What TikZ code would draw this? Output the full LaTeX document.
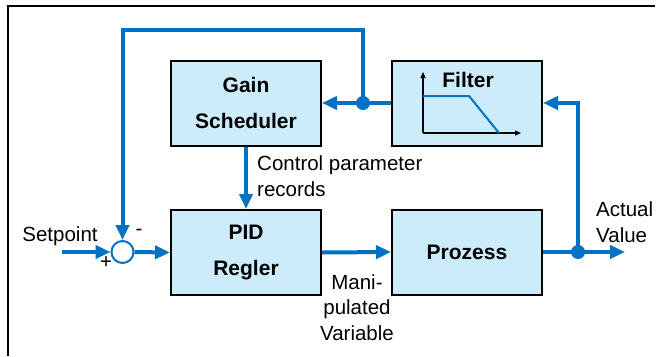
\documentclass[tikz,border=0pt]{standalone}
\usepackage{fontspec}
\setmainfont{Liberation Sans}
\usetikzlibrary{arrows.meta}

\definecolor{flowblue}{RGB}{0,114,198}
\definecolor{boxblue}{RGB}{204,235,251}

\tikzset{
    blockbox/.style={draw=black, line width=2pt, fill=boxblue, minimum width=150pt,
        minimum height=85pt, inner sep=0pt, align=center, font=\fontsize{21}{36}\selectfont\bfseries},
    flow/.style={draw=flowblue, line width=4pt, -{Triangle[length=15pt,width=13pt]}},
    lbl/.style={font=\fontsize{20.5}{26}\selectfont, inner sep=0pt}
}

\begin{document}
\begin{tikzpicture}[x=1pt, y=-1pt]
    \useasboundingbox (0,0) rectangle (663,356);

    % Draw the frame
    \draw[line width=2pt] (8,356) -- (8,6) -- (655,6);

    % Place the blocks
    \node[blockbox] (gain) at (246,103) {Gain\\Scheduler};
    \node[blockbox] (filter) at (467,103) {};
    \node[blockbox] (pid) at (246,252.5) {PID\\Regler};
    \node[blockbox] (prozess) at (467,252) {Prozess};
    \node[draw=flowblue, line width=2pt, fill=white, circle, minimum size=22pt, inner sep=0pt] (sum) at (122.5,252) {};

    % Define the points of the lines
    \coordinate (in) at (62,252);
    \coordinate (tapf) at (363,103);
    \coordinate (top) at (122.5,30);
    \coordinate (tapo) at (578,252);
    \coordinate (out) at (625,252);

    % Draw the filter curve
    \node[font=\fontsize{21}{25}\selectfont\bfseries, inner sep=0pt] (ftitle) at (468,80) {Filter};
    \coordinate (forigin) at (423,133);
    \draw[line width=1.3pt, -{Triangle[length=6pt,width=5pt]}] (forigin) -- (423,72);
    \draw[line width=1.3pt, -{Triangle[length=6pt,width=5pt]}] (forigin) -- (521,133);
    \draw[flowblue, line width=2pt] (423,96) -- (469,96) -- (499,133);

    % Draw the signal lines
    \draw[flow] (in) -- (sum.west);
    \draw[flow] (sum.east) -- (pid.west);
    \draw[flow] (pid.east) -- (prozess.west);
    \draw[flow] (prozess.east) -- (out);
    \draw[flow] (tapo) |- (filter.east);
    \draw[flow] (filter.west) -- (gain.east);
    \draw[flow] (tapf) |- (top) -- (sum.north);
    \draw[flow] (gain.south) -- (pid.north);

    % Draw the branch points
    \fill[flowblue] (tapf) circle (7);
    \fill[flowblue] (tapo) circle (7);

    % Place the labels
    \node[lbl] (setpoint) at (60,236) {Setpoint};
    \node[lbl] (plus) at (106,263) {+};
    \node[lbl] (minus) at (139,232) {-};
    \node[lbl, anchor=west, align=left] (params) at (257,176) {Control parameter\\records};
    \node[lbl, align=center, font=\fontsize{20.5}{25.5}\selectfont] (mv) at (357,307.5) {Mani-\\pulated\\Variable};
    \node[lbl, anchor=west, align=left] (actual) at (596,222) {Actual\\Value};

\end{tikzpicture}
\end{document}
